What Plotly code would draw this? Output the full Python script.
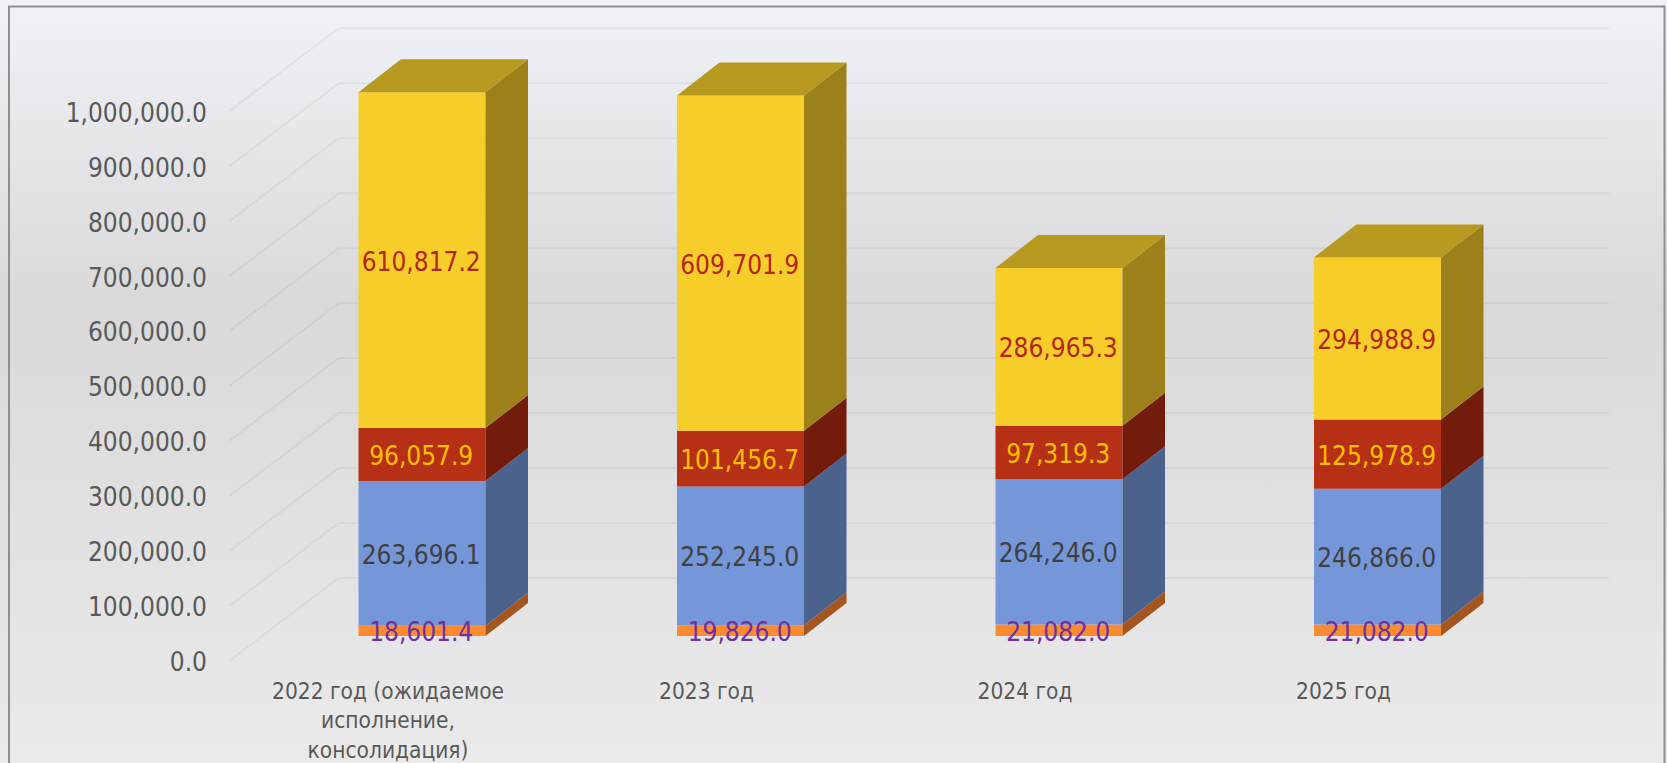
import plotly.graph_objects as go

CATEGORIES = ["2022 год (ожидаемое<br>исполнение,<br>консолидация)", "2023 год", "2024 год", "2025 год"]
ORANGE_VALUES = [18601.4, 19826.0, 21082.0, 21082.0]
BLUE_VALUES = [263696.1, 252245.0, 264246.0, 246866.0]
RED_VALUES = [96057.9, 101456.7, 97319.3, 125978.9]
YELLOW_VALUES = [610817.2, 609701.9, 286965.3, 294988.9]
WALL_TICKS = [0, 100000, 200000, 300000, 400000, 500000, 600000, 700000, 800000, 900000, 1000000]

WIDTH = 1667
HEIGHT = 763
FONT = "DejaVu Sans Condensed, Tahoma, sans-serif"

# page geometry of the fake 3D box
PX_PER_CAT = 318.5
FIRST_CAT_PX = 422
PX_PER_100K = 54.97
WALL_ZERO_PX = 660.7
BAR_ZERO_PX = 636.1
TICK_LABEL_DROP_PX = 1.5

BAR_WIDTH = 127 / PX_PER_CAT
BAR_DX = 42.5 / PX_PER_CAT
BAR_DY = 33 / PX_PER_100K * 100000
WALL_DY = 82.7 / PX_PER_100K * 100000
WALL_X0 = (229.6 - FIRST_CAT_PX) / PX_PER_CAT
WALL_X1 = (338.7 - FIRST_CAT_PX) / PX_PER_CAT
WALL_X2 = (1609 - FIRST_CAT_PX) / PX_PER_CAT
CAT_LABEL_SHIFT = -34 / PX_PER_CAT
DATA_LABEL_DX = -0.8 / PX_PER_CAT
DATA_LABEL_DY = -4 / PX_PER_100K * 100000

SERIES = [
    (ORANGE_VALUES, "#fb8a31", "#a5561f", "#7030a0"),
    (BLUE_VALUES, "#7597da", "#4a628c", "#404040"),
    (RED_VALUES, "#b53014", "#741c0c", "#ffc000"),
    (YELLOW_VALUES, "#f7cd2a", "#9c811b", "#b3261b"),
]
TOP_COLOR = "#b99a20"

x_range = [-FIRST_CAT_PX / PX_PER_CAT, (WIDTH - FIRST_CAT_PX) / PX_PER_CAT]


def y_range(zero_px):
    return [-(HEIGHT - zero_px) / PX_PER_100K * 100000, zero_px / PX_PER_100K * 100000]


label_range = y_range(WALL_ZERO_PX + TICK_LABEL_DROP_PX)
positions = list(range(len(CATEGORIES)))
fig = go.Figure()

# page background, also what keeps the tick label axis alive
fig.add_trace(go.Scatter(
    x=[x_range[0], x_range[1], x_range[1], x_range[0], x_range[0]],
    y=[label_range[0], label_range[0], label_range[1], label_range[1], label_range[0]],
    mode="none",
    fill="toself",
    fillgradient=dict(
        type="vertical",
        colorscale=[[0, "#eaeaea"], [0.6, "#d9d9d9"], [1, "#f0f2f8"]],
    ),
    hoverinfo="skip",
))

# back wall grid, kept on a lower overlay so bars cover it
for tick in WALL_TICKS:
    fig.add_trace(go.Scatter(
        x=[WALL_X0, WALL_X1, WALL_X2],
        y=[tick, tick + WALL_DY, tick + WALL_DY],
        mode="lines",
        line=dict(color="rgba(0,0,0,0.045)", width=2),
        yaxis="y2",
        hoverinfo="skip",
    ))

bottoms = [0.0] * len(positions)
for values, front, side, text_color in SERIES:
    fig.add_trace(go.Bar(
        x=positions,
        y=values,
        base=bottoms,
        width=BAR_WIDTH,
        marker=dict(color=front, line=dict(width=0)),
        yaxis="y3",
    ))
    side_x, side_y = [], []
    for pos, bottom, value in zip(positions, bottoms, values):
        right = pos + BAR_WIDTH / 2
        side_x += [right, right + BAR_DX, right + BAR_DX, right, right, None]
        side_y += [bottom, bottom + BAR_DY, bottom + value + BAR_DY, bottom + value, bottom, None]
    fig.add_trace(go.Scatter(
        x=side_x, y=side_y, mode="none", fill="toself", fillcolor=side, yaxis="y3", hoverinfo="skip",
    ))
    bottoms = [b + v for b, v in zip(bottoms, values)]

top_x, top_y = [], []
for pos, total in zip(positions, bottoms):
    left = pos - BAR_WIDTH / 2
    right = pos + BAR_WIDTH / 2
    top_x += [left, right, right + BAR_DX, left + BAR_DX, left, None]
    top_y += [total, total, total + BAR_DY, total + BAR_DY, total, None]
fig.add_trace(go.Scatter(
    x=top_x, y=top_y, mode="none", fill="toself", fillcolor=TOP_COLOR, yaxis="y3", hoverinfo="skip",
))

# data labels on top of everything
bottoms = [0.0] * len(positions)
for values, front, side, text_color in SERIES:
    fig.add_trace(go.Scatter(
        x=[p + DATA_LABEL_DX for p in positions],
        y=[b + v / 2 + DATA_LABEL_DY for b, v in zip(bottoms, values)],
        mode="text",
        text=[f"{v:,.1f}" for v in values],
        textposition="middle center",
        textfont=dict(family=FONT, size=26, color=text_color),
        yaxis="y3",
        hoverinfo="skip",
    ))
    bottoms = [b + v for b, v in zip(bottoms, values)]

fig.update_layout(
    width=WIDTH,
    height=HEIGHT,
    margin=dict(l=0, r=0, t=0, b=0),
    paper_bgcolor="#e6e6e6",
    plot_bgcolor="rgba(0,0,0,0)",
    showlegend=False,
    barmode="overlay",
    font=dict(family=FONT, color="#595959"),
    xaxis=dict(
        range=x_range,
        domain=[0, 1],
        showgrid=False,
        zeroline=False,
        showline=False,
        tickmode="array",
        tickvals=[p + CAT_LABEL_SHIFT for p in positions],
        ticktext=CATEGORIES,
        tickangle=0,
        tickfont=dict(size=22.5, color="#595959"),
        ticks="",
        anchor="free",
        position=(HEIGHT - 675.5) / HEIGHT,
    ),
    yaxis=dict(
        range=label_range,
        domain=[0, 1],
        showgrid=False,
        zeroline=False,
        showline=False,
        tickmode="array",
        tickvals=WALL_TICKS,
        tickformat=",.1f",
        tickfont=dict(size=26, color="#595959"),
        ticks="",
        anchor="free",
        position=207 / WIDTH,
    ),
    yaxis2=dict(range=y_range(WALL_ZERO_PX), overlaying="y", visible=False),
    yaxis3=dict(range=y_range(BAR_ZERO_PX), overlaying="y", visible=False),
    shapes=[dict(
        type="path",
        xref="paper",
        yref="paper",
        path=f"M {9 / WIDTH} -0.1 L {9 / WIDTH} {1 - 6.5 / HEIGHT} L {1 - 2.5 / WIDTH} {1 - 6.5 / HEIGHT} L {1 - 2.5 / WIDTH} -0.1",
        line=dict(color="#8f8f8f", width=2),
    )],
)

fig.write_html(
    "out.html",
    config=dict(displayModeBar=False),
    post_script="document.body.style.margin='0';document.body.style.overflow='hidden';",
)
